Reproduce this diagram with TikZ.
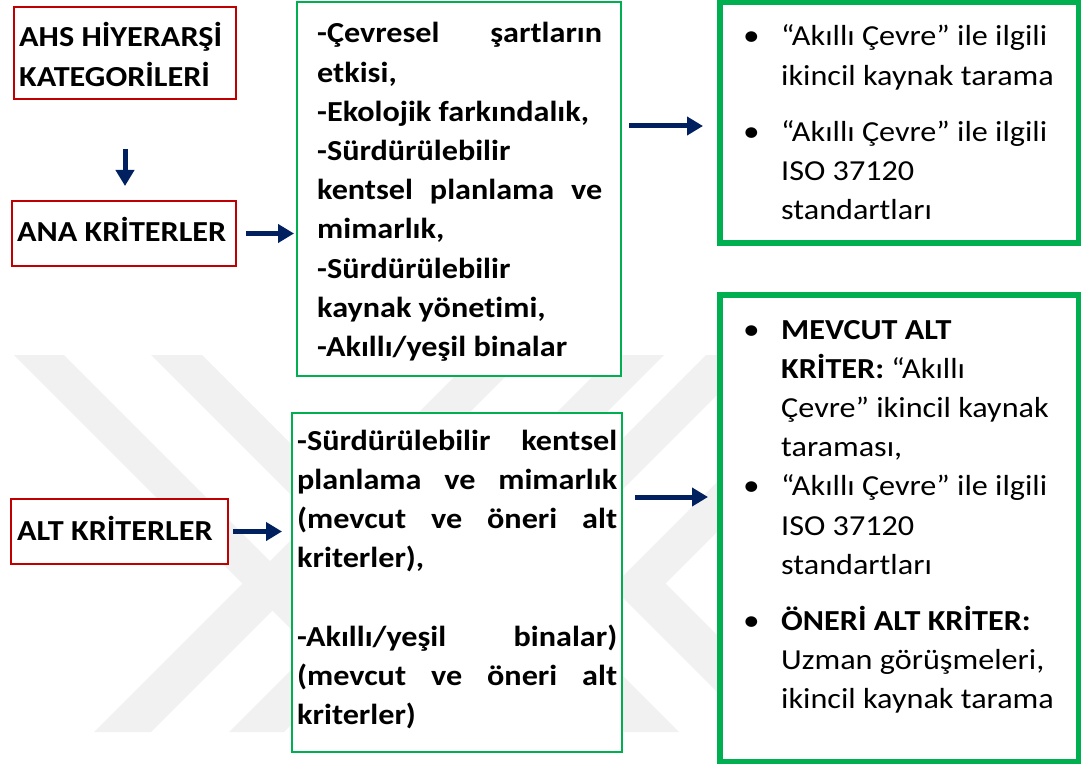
\documentclass[tikz,border=0pt]{standalone}
\usepackage{fontspec}
\setmainfont{Carlito}[FakeStretch=1.11,Ligatures=NoCommon]
\usetikzlibrary{arrows.meta}
\definecolor{boxred}{HTML}{C00000}
\definecolor{boxgreen}{HTML}{00B050}
\definecolor{arrnavy}{HTML}{002060}
\definecolor{wmgray}{HTML}{F1F1F1}
\newcommand\bodyfont{\fontsize{29}{39.2}\selectfont}
\newcommand\itm{\leavevmode\llap{\makebox[38pt][l]{\fontsize{30}{30}\selectfont •}}}
\begin{document}
\begin{tikzpicture}[x=1pt,y=-1pt,
  redbox/.style={draw=boxred,line width=2pt,fill=white,inner sep=0pt},
  thinbox/.style={draw=boxgreen,line width=2pt,fill=white,inner sep=0pt},
  thickbox/.style={draw=boxgreen,line width=5.5pt,fill=white,inner sep=0pt},
  txt/.style={anchor=base west,inner sep=0pt,font=\bodyfont},
  arr/.style={draw=arrnavy,line width=5pt,-{Triangle[length=16pt,width=18pt]}},
  wm/.style={fill=wmgray,draw=none}]
\useasboundingbox (0,0) rectangle (1081,767);
% watermark
\fill[wm] (14,355) -- (64,355) -- (296,587) -- (151,732) -- (94,732) -- (242.5,583.5) -- cycle;
\fill[wm] (151,355) -- (202,355) -- (431.5,584.5) -- (284,732) -- (229,732) -- (378.5,582.5) -- cycle;
\fill[wm] (527,355) -- (476,355) -- (246.5,584.5) -- (394,732) -- (449,732) -- (299.5,582.5) -- cycle;
\fill[wm] (664,355) -- (614,355) -- (382,587) -- (527,732) -- (584,732) -- (435.5,583.5) -- cycle;
\fill[wm] (757,355) -- (706,355) -- (476.5,584.5) -- (624,732) -- (679,732) -- (529.5,582.5) -- cycle;
\fill[wm] (894,355) -- (844,355) -- (612,587) -- (757,732) -- (814,732) -- (665.5,583.5) -- cycle;
% boxes
\node[redbox,minimum width=222pt,minimum height=92pt] (cat) at (125,53) {};
\node[redbox,minimum width=224pt,minimum height=65pt] (ana) at (124,233.5) {};
\node[redbox,minimum width=217pt,minimum height=65pt] (alt) at (119.5,531.5) {};
\node[thinbox,minimum width=324pt,minimum height=374pt] (mid1) at (459,189) {};
\node[thinbox,minimum width=330pt,minimum height=339pt] (mid2) at (457,582.5) {};
\node[thickbox,minimum width=358.5pt,minimum height=240.5pt] (rt) at (899,123) {};
\node[thickbox,minimum width=358.5pt,minimum height=466.5pt] (rb) at (899,528) {};
% texts
\node[txt] (tcat) at (19,47) {\parbox[t]{215pt}{\bfseries AHS HİYERARŞİ\\KATEGORİLERİ}};
\node[txt] (tana) at (17,242) {\bfseries ANA KRİTERLER};
\node[txt] (talt) at (17,540) {\bfseries ALT KRİTERLER};
\node[txt] (tmid1) at (317,43) {\parbox[t]{285pt}{\bfseries
-Çevresel\hfill şartların\\
etkisi,\\
-Ekolojik farkındalık,\\
-Sürdürülebilir\\
kentsel\hfill planlama\hfill ve\\
mimarlık,\\
-Sürdürülebilir\\
kaynak yönetimi,\\
-Akıllı/yeşil binalar}};
\node[txt] (tmid2) at (297,450) {\parbox[t]{320pt}{\bfseries
-Sürdürülebilir\hfill kentsel\\
planlama\hfill ve\hfill mimarlık\\
(mevcut\hfill ve\hfill öneri\hfill alt\\
kriterler),\\[39.2pt]
-Akıllı/yeşil\hfill binalar)\\
(mevcut\hfill ve\hfill öneri\hfill alt\\
kriterler)}};
\node[txt] (trt) at (781,46) {\parbox[t]{292pt}{
\itm “Akıllı Çevre” ile ilgili\\
ikincil kaynak tarama\\[17pt]
\itm “Akıllı Çevre” ile ilgili\\
ISO 37120\\
standartları}};
\node[txt] (trb) at (781,339) {\parbox[t]{292pt}{
\itm \textbf{MEVCUT ALT}\\
\textbf{KRİTER:} “Akıllı\\
Çevre” ikincil kaynak\\
taraması,\\
\itm “Akıllı Çevre” ile ilgili\\
ISO 37120\\
standartları\\[17pt]
\itm \textbf{ÖNERİ ALT KRİTER:}\\
Uzman görüşmeleri,\\
ikincil kaynak tarama}};
% arrows
\draw[arr,shorten <=49pt,shorten >=14pt] (cat.south) -- (cat.south |- ana.north);
\draw[arr,shorten <=9pt,shorten >=2pt] (ana.east) -- (ana.east -| mid1.west);
\draw[arr,shorten <=7pt,shorten >=14pt] ([yshift=-3pt]mid1.east |- rt.west) -- ([yshift=-3pt]rt.west);
\draw[arr,shorten <=4pt,shorten >=9pt] (alt.east) -- (alt.east -| mid2.west);
\coordinate (a5) at (0,497);
\draw[arr,shorten <=12pt,shorten >=9pt] (mid2.east |- a5) -- (rb.west |- a5);
\end{tikzpicture}
\end{document}
